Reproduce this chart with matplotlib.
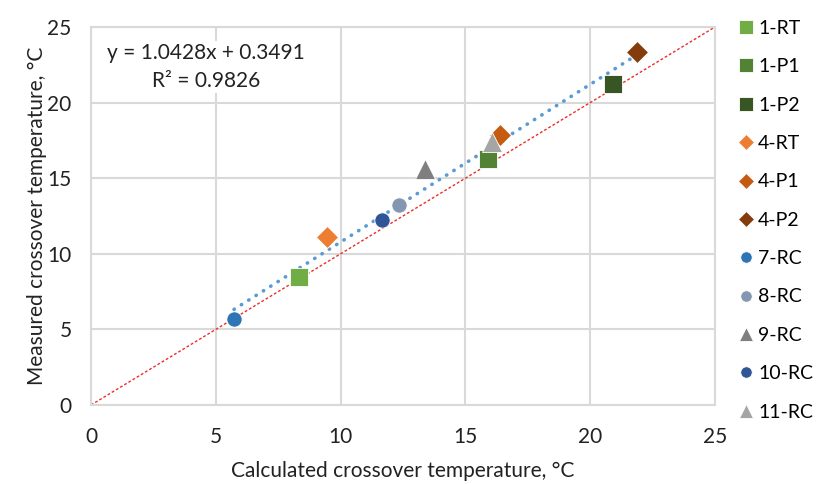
import numpy as np
import matplotlib
matplotlib.use("Agg")
import matplotlib.pyplot as plt

plt.rcParams['font.family'] = ['Lato', 'DejaVu Sans']

# samples: label, calculated, measured
labels = ['1-RT', '1-P1', '1-P2', '4-RT', '4-P1', '4-P2',
          '7-RC', '8-RC', '9-RC', '10-RC', '11-RC']
calc = [8.33, 15.9, 20.9, 9.45, 16.4, 21.87, 5.73, 12.34, 13.38, 11.66, 16.07]
meas = [8.47, 16.3, 21.2, 11.1, 17.85, 23.35, 5.69, 13.2, 15.6, 12.23, 17.4]
markers = ['s', 's', 's', 'D', 'D', 'D', 'o', 'o', '^', 'o', '^']
colors = ['#70AD47', '#548235', '#375623', '#ED7D31', '#C55A11', '#843C0C',
          '#2E75B6', '#8497B0', '#7F7F7F', '#2F5597', '#A5A5A5']
sizes = [13, 13, 13, 11, 11, 11, 11, 11, 14, 11, 14]

slope = 1.0428
intercept = 0.3491
r2 = 0.9826

fig = plt.figure(figsize=(8.24, 4.84), dpi=100)
ax = fig.add_axes([91/824, 1-405/484, (715-91)/824, (405-27)/484])

grid_c = '#D9D9D9'
ax.set_xlim(0, 25)
ax.set_ylim(0, 25)
ax.set_xticks(range(0, 26, 5))
ax.set_yticks(range(0, 26, 5))
ax.grid(True, color=grid_c, linewidth=1.5)
ax.set_axisbelow(True)
for s in ax.spines.values():
    s.set_color(grid_c)
    s.set_linewidth(1.5)
ax.tick_params(length=0, labelsize=15, colors='#222222')
ax.tick_params(axis='x', pad=16)
ax.tick_params(axis='y', pad=14)

# 1:1 line
ax.plot([0, 25], [0, 25], color='#E8302A', linewidth=1.0, linestyle=(0, (2, 1.5)), zorder=2)

# linear trend
xt = np.array([min(calc), max(calc)])
ax.plot(xt, slope*xt + intercept, color='#5B9BD5', linewidth=2.6,
        linestyle=(0, (0.1, 2.3)), dash_capstyle='round', zorder=3)

handles = []
for lb, x, y, m, c, ms in zip(labels, calc, meas, markers, colors, sizes):
    h, = ax.plot([x], [y], linestyle='none', marker=m, color=c, markersize=ms,
                 markeredgecolor='white', markeredgewidth=0.6, label=lb, zorder=4)
    handles.append(h)

ax.text(4.6, 22.35, 'y = 1.0428x + 0.3491\nR² = 0.9826', ha='center', va='center',
        fontsize=15, linespacing=1.45, color='#222222',
        bbox=dict(facecolor='white', edgecolor='none', pad=2), zorder=5)

ax.set_xlabel('Calculated crossover temperature, °C', fontsize=15, labelpad=10, color='#222222')
ax.set_ylabel('Measured crossover temperature, °C', fontsize=15, labelpad=0, color='#222222')

leg = fig.legend(handles=handles, loc='upper left', bbox_to_anchor=(730/824, 1-12/484),
                 frameon=False, fontsize=14, handletextpad=0.25, labelspacing=1.1,
                 handlelength=0.8, markerscale=0.75, borderaxespad=0)

fig.savefig('out.png', dpi=100)
